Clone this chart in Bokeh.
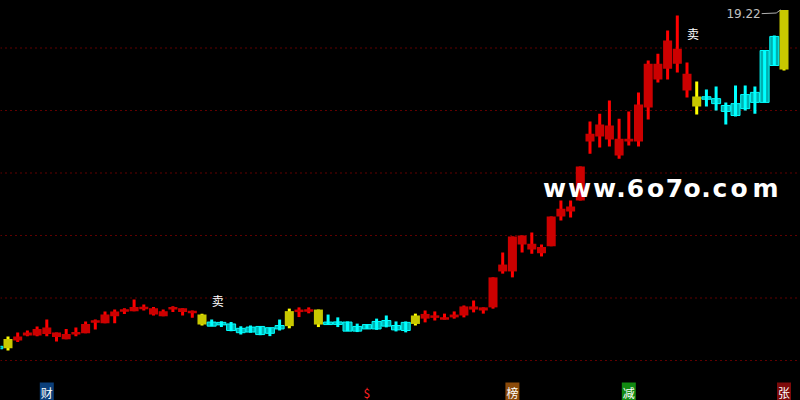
import numpy as np
from bokeh.plotting import figure
from bokeh.models import Range1d, Span, Label, ColumnDataSource, GlobalInlineStyleSheet
from bokeh.embed import file_html
from bokeh.resources import INLINE

# ---------------- data ----------------
open_ = [8.43, 8.39, 8.64, 8.80, 8.80, 8.85, 8.75, 8.68, 8.83, 8.87,
         9.21, 9.19, 9.42, 9.58, 9.58, 9.65, 9.47, 9.42, 9.63, 9.55,
         9.53, 9.47, 9.23, 9.21, 9.17, 9.03, 9.07, 9.09, 9.05, 9.12,
         9.10, 9.55, 9.57, 9.63, 9.21, 9.21, 9.23, 9.09, 9.15, 9.25,
         9.28, 9.12, 9.22, 9.17, 9.34, 9.37, 9.31, 9.38, 9.44, 9.63,
         9.60, 9.70, 10.85, 10.85, 11.71, 11.55, 11.43, 11.66, 12.61, 12.77,
         13.12, 15.01, 15.17, 15.07, 14.56, 15.01, 15.01, 16.10, 16.99, 17.34,
         17.50, 16.64, 16.45, 16.42, 16.38, 16.16, 15.84, 16.06, 16.26, 16.26,
         17.44, 17.31]
close = [8.40, 8.69, 8.77, 8.90, 9.01, 9.06, 8.90, 8.85, 8.91, 9.17,
         9.28, 9.47, 9.57, 9.62, 9.71, 9.71, 9.67, 9.58, 9.71, 9.67,
         9.58, 9.15, 9.10, 9.15, 8.96, 8.89, 8.91, 8.83, 8.87, 9.01,
         9.58, 9.63, 9.63, 9.15, 9.17, 9.18, 8.94, 8.94, 9.01, 9.01,
         9.10, 8.98, 8.96, 9.44, 9.49, 9.44, 9.38, 9.47, 9.73, 9.73,
         9.70, 10.66, 11.07, 11.97, 12.00, 11.74, 11.63, 12.61, 12.86, 12.93,
         14.21, 15.26, 15.55, 15.52, 15.10, 15.10, 16.19, 17.50, 17.50, 18.24,
         17.98, 17.18, 16.13, 16.38, 16.22, 15.97, 16.22, 16.51, 16.58, 17.92,
         18.37, 19.22]
high = [8.45, 8.77, 8.90, 8.96, 9.09, 9.31, 8.90, 9.01, 9.06, 9.25,
        9.31, 9.57, 9.63, 9.67, 9.95, 9.79, 9.71, 9.63, 9.74, 9.67,
        9.60, 9.50, 9.31, 9.26, 9.23, 9.10, 9.12, 9.09, 9.05, 9.31,
        9.66, 9.70, 9.70, 9.63, 9.47, 9.38, 9.25, 9.18, 9.16, 9.34,
        9.44, 9.25, 9.25, 9.50, 9.60, 9.57, 9.50, 9.57, 9.76, 9.92,
        9.70, 10.66, 11.46, 11.97, 12.00, 12.10, 11.71, 12.61, 13.12, 13.12,
        14.21, 15.65, 15.90, 16.32, 15.74, 15.97, 16.58, 17.60, 17.82, 18.56,
        19.04, 17.54, 16.93, 16.67, 16.77, 16.26, 16.80, 16.80, 16.77, 17.92,
        18.40, 19.22]
low = [8.38, 8.32, 8.59, 8.78, 8.78, 8.78, 8.61, 8.68, 8.78, 8.87,
       8.99, 9.19, 9.19, 9.49, 9.58, 9.60, 9.44, 9.42, 9.55, 9.44,
       9.37, 9.12, 9.10, 9.07, 8.94, 8.83, 8.89, 8.81, 8.78, 8.96,
       9.03, 9.39, 9.51, 9.07, 9.15, 9.07, 8.94, 8.91, 9.01, 8.98,
       9.06, 8.93, 8.90, 9.12, 9.22, 9.28, 9.31, 9.34, 9.38, 9.54,
       9.50, 9.66, 10.78, 10.66, 11.46, 11.42, 11.33, 11.66, 12.48, 12.58,
       13.12, 14.62, 14.82, 14.85, 14.46, 14.88, 14.85, 15.71, 16.90, 16.99,
       17.22, 16.42, 15.87, 16.13, 16.00, 15.55, 15.81, 16.00, 15.90, 16.26,
       17.44, 17.28]
# trend signal per bar: r = red trend, c = cyan trend, y = yellow turn
signal = (["c", "y"] + ["r"] * 19 + ["y"] + ["c"] * 8 + ["y", "r", "r", "y"]
          + ["c"] * 9 + ["y"] + ["r"] * 28 + ["y"] + ["c"] * 8 + ["y"])

grid_levels = [8, 10, 12, 14, 16, 18]
sell_idx = [22, 71]
sell_level = [9.66, 18.20]
event_idx = [5, 38, 53, 65, 81]
event_text = ["财", "$", "榜", "减", "张"]
event_box = ["#0b3f7a", None, "#8a4a0a", "#118a11", "#7d0a0a"]
event_color = ["#ffffff", "#ff2020", "#ffffff", "#ffffff", "#ffffff"]
watermark = "www.6o7o.com"

# ---------------- figure ----------------
W, H = 800, 400
p = figure(width=W, height=H, output_backend="svg", toolbar_location=None,
           x_range=Range1d(0.227, 82.70), y_range=Range1d(6.72, 19.52),
           min_border=0, background_fill_color="#000000",
           border_fill_color="#000000", outline_line_color=None)
p.xaxis.visible = False
p.yaxis.visible = False
p.xgrid.visible = False
p.ygrid.visible = False
p.stylesheets = [GlobalInlineStyleSheet(
    css="html,body{margin:0;padding:0;background:#000;overflow:hidden}")]

for g in grid_levels:
    p.add_layout(Span(location=g, dimension="width", line_color="#c00000",
                      line_width=1, line_dash="1 4", level="underlay"))

n = len(open_)
idx = np.arange(n)
o = np.array(open_); c = np.array(close)
hi = np.array(high); lo = np.array(low)
bot = np.minimum(o, c); top = np.maximum(o, c)
mid = (bot + top) / 2
small = (top - bot) < 0.08
bot = np.where(small, mid - 0.04, bot)
top = np.where(small, mid + 0.04, top)
sig = np.array(signal)

body_col = {"r": "#cc0000", "c": "#00b0b0", "y": "#c8c800"}
wick_col = {"r": "#ff0000", "c": "#00ffff", "y": "#ffff00"}

srcs = {}
for k in ["r", "c", "y"]:
    m = sig == k
    srcs[k] = ColumnDataSource(dict(x=idx[m], hi=hi[m], lo=lo[m],
                                    bot=bot[m], top=top[m]))

half = 0.465
for k in ["r", "y"]:
    p.segment(x0="x", x1="x", y0="lo", y1="hi", source=srcs[k],
              line_color=wick_col[k], line_width=3)
for k in ["r", "y", "c"]:
    src = srcs[k]
    src.data["l"] = src.data["x"] - half
    src.data["rr"] = src.data["x"] + half
    p.quad(left="l", right="rr", bottom="bot", top="top", source=src,
           fill_color=body_col[k],
           line_color=(wick_col[k] if k == "c" else None), line_width=1)
p.segment(x0="x", x1="x", y0="lo", y1="hi", source=srcs["c"],
          line_color=wick_col["c"], line_width=3)

# sell markers
for i, lv in zip(sell_idx, sell_level):
    p.add_layout(Label(x=i, y=lv, text="卖", text_color="#ffffff",
                       text_font="Noto Sans CJK SC", text_font_size="12px",
                       text_align="left", text_baseline="bottom"))

# last price leader
xl = n - 1
p.line(x=[xl - 2.3, xl - 0.8, xl - 0.35], y=[hi[-1] - 0.12, hi[-1] - 0.10, hi[-1]],
       line_color="#b0b0b0", line_width=1)
p.add_layout(Label(x=xl - 2.4, y=hi[-1] - 0.10, text=f"{hi[-1]:.2f}",
                   text_color="#c0c0c0", text_font="DejaVu Sans",
                   text_font_size="12px", text_align="right",
                   text_baseline="middle"))

# event markers at the bottom
for i, t, bc, tc in zip(event_idx, event_text, event_box, event_color):
    p.add_layout(Label(x=i, y=8.5, y_units="screen", text=t, text_color=tc,
                       text_font="Noto Sans CJK SC", text_font_size="12px",
                       text_align="center", text_baseline="middle",
                       background_fill_color=bc, padding=1))

# watermark, one glyph at a time so that it keeps its wide spacing
wm_centers = [554, 579, 604, 620.5, 635, 655, 674, 691.5, 705.5, 719.5, 738.5, 765]
for ch, cx in zip(watermark, wm_centers):
    p.add_layout(Label(x=cx, y=H - 187.5, x_units="screen", y_units="screen",
                       text=ch, text_color="#ffffff", text_font="DejaVu Sans",
                       text_font_style="bold", text_font_size="25px",
                       text_align="center", text_baseline="alphabetic"))

open("out.html", "w").write(file_html(p, INLINE))
